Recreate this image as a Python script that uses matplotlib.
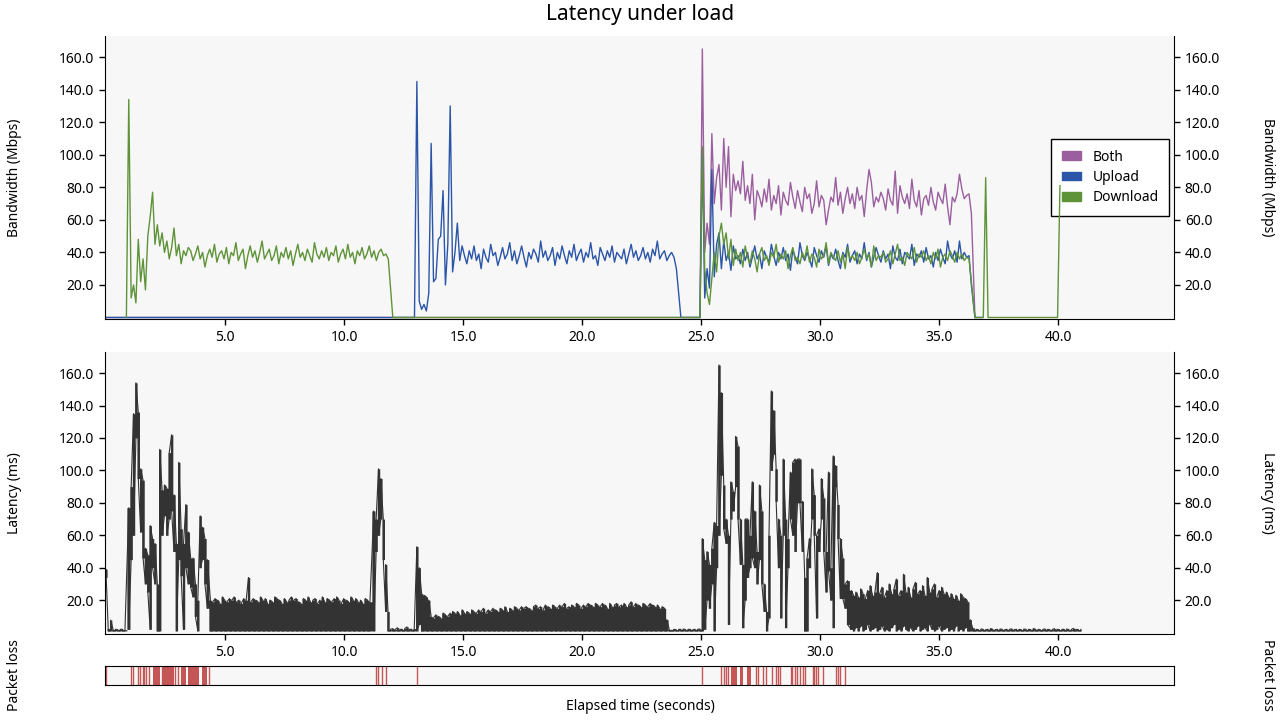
import numpy as np
import matplotlib.pyplot as plt
from matplotlib.patches import Patch
from matplotlib.ticker import FormatStrFormatter

plt.rcParams['font.family'] = ['Noto Sans', 'DejaVu Sans']
plt.rcParams['font.size'] = 10

STEP = 0.1  # sample spacing in seconds

# ---- bandwidth (Mbps) ----
dl_load = [134, 12, 20, 9, 48, 22, 36, 17, 50, 62, 77, 45, 57, 44, 52, 40, 47, 36, 43, 55,
           38, 45, 33, 41, 38, 43,
           41, 35, 39, 44, 36, 40, 31, 38, 42, 37, 45, 34, 39, 41, 36, 43, 33, 40, 38, 46,
           35, 39, 42, 30, 38, 44, 37, 41, 34, 40, 47, 36, 39, 42, 35, 38, 44, 33, 40, 37,
           43, 36, 41, 32, 39, 45, 37, 40, 35, 42, 38, 34, 46, 39, 36, 41, 37, 43, 35, 40,
           38, 44, 34, 39, 42, 36, 45, 37, 40, 33, 41, 38, 43, 36, 39, 44, 37, 41, 35, 40,
           42, 38, 39, 36]
ul_load = [145, 10, 5, 8, 4, 15, 107, 22, 24, 48, 50, 78, 20, 45, 130, 28, 40, 58, 35, 44,
           38, 33, 41, 36, 44, 35, 39, 30, 42, 37, 34, 45, 38, 40, 32, 37, 43, 36, 39, 46,
           35, 41, 33, 38, 44, 37, 31, 40, 36, 42, 39, 34, 47, 37, 41, 35, 38, 43, 32, 40,
           36, 44, 38, 33, 41, 37, 45, 35, 39, 42, 34, 40, 37, 46, 36, 38, 32, 43, 39, 35,
           41, 37, 44, 34, 40, 38, 36, 42, 33, 39, 45, 37, 41, 35, 38, 43, 36, 40, 34, 42,
           38, 47, 36, 39, 41, 35, 38, 40, 37, 30]
both_both = [165, 40, 58, 45, 113, 70, 86, 94, 66, 110, 80, 105, 62, 88, 78, 84, 76, 96, 72, 81,
             70, 88, 60, 78,
             74, 68, 79, 71, 85, 66, 75, 70, 81, 63, 77, 72, 69, 83, 74, 67, 78, 71, 65, 80,
             73, 76, 64, 70, 84, 68, 75, 72, 57, 66, 74, 71, 86, 69, 77, 64, 73, 80, 70, 76,
             67, 80, 72, 75, 62, 78, 91, 83, 68, 74, 71, 77, 73, 66, 79, 72, 69, 90, 64, 81,
             74, 70, 76, 67, 85, 72, 68, 78, 63, 73, 75, 69, 80, 71, 66, 77, 73, 70, 82, 68,
             57, 74, 71, 76, 88, 79, 73, 75, 76, 64]
ul_both = [102, 12, 30, 18, 91, 25, 45, 52, 30, 47, 35, 40, 29, 44, 36,
           38, 33, 42, 35, 40, 31, 37, 44, 36, 39, 30, 41, 37, 34, 45, 38, 32, 40, 36, 43,
           35, 39, 29, 42, 37, 33, 46, 38, 35, 40, 36, 31, 43, 38, 34, 41, 37, 44, 32, 39,
           36, 42, 35, 30, 40, 37, 45, 34, 38, 41, 33, 39, 36, 46, 35, 40, 31, 37, 43, 38,
           34, 41, 36, 39, 30, 44, 37, 35, 42, 33, 40, 38, 36, 45, 32, 39, 37, 41, 34, 43,
           36, 38, 31, 40, 35, 42, 37, 33, 47, 39, 36, 41, 34, 47, 36, 40, 37, 38, 20]
dl_both = [105, 30, 15, 8, 24, 40, 28, 50, 58, 45, 52, 36, 48, 32, 42,
           35, 40, 31, 44, 37, 33, 41, 36, 28, 39, 43, 35, 38, 32, 40, 37, 45, 34, 39, 36,
           41, 30, 38, 43, 35, 37, 33, 40, 36, 44, 34, 39, 37, 31, 42, 36, 38, 46, 33, 40,
           37, 35, 41, 34, 39, 30, 43, 36, 38, 35, 40, 33, 37, 42, 36, 39, 31, 44, 35, 38,
           37, 40, 34, 36, 41, 33, 39, 45, 35, 37, 32, 40, 38, 36, 43, 34, 39, 37, 41, 35,
           38, 33, 40, 36, 42, 31, 37, 39, 35, 41, 38, 34, 40, 36, 39, 35, 37, 36, 22]

# (start time, samples)
download_runs = [(0.86, [0.0]), (0.96, dl_load), (12.05, [0.0]), (24.95, [0.0]), (25.05, dl_both),
                 (36.5, [0.0]), (36.85, [0.0, 86.0, 0.0]), (39.97, [0.0, 81.0])]
upload_runs = [(0.0, [0.0]), (12.96, [0.0]), (13.06, ul_load), (24.15, [0.0]), (24.95, [0.0]),
               (25.05, ul_both), (36.5, [0.0]), (36.8, [0.0])]
both_runs = [(0.0, [0.0]), (24.95, [0.0]), (25.05, both_both), (36.5, [0.0])]

# ---- latency (ms): per-sample max / min ----
hi_a = [39, 2.5, 7.7, 2, 2, 1.8, 2, 2, 1.8]
lo_a = [34, 1, 1, 1, 1, 1, 1, 1, 1]
hi_b = [77, 90, 135, 154, 136, 101, 94, 52, 48, 66, 58, 55, 30, 113, 88, 91, 89, 111, 122, 85,
        55, 105, 64, 55, 79, 62, 46, 46, 30, 20, 72, 65, 58, 45]
lo_b = [2, 45, 60, 120, 95, 62, 46, 30, 25, 2, 40, 30, 1, 1, 60, 72, 60, 70, 75, 50,
        1, 45, 35, 2, 40, 30, 28, 22, 10, 1, 40, 45, 30, 15]
hi_c = [20, 19, 21, 20, 18, 22, 20, 19, 21, 20, 22, 19, 20, 18, 21, 20, 34, 19, 21, 20,
        19, 22, 20, 21, 18, 20, 19, 22, 21, 20, 18, 21, 19, 20, 22, 20, 21, 19, 18, 21,
        20, 22, 19, 20, 21, 18, 20, 22, 19, 21, 20, 19, 21, 22, 20, 18, 21, 20, 19, 22,
        20, 21, 19, 20, 18, 21, 20, 19]
hi_d = [75, 70, 101, 95, 70, 42, 13]
lo_d = [1, 50, 60, 70, 45, 13, 1]
hi_e = [2, 2.5, 2, 3, 2, 2, 2.5, 3.5, 2, 2, 2.5]
hi_f = [53, 40, 24, 23, 22, 20]
lo_f = [1, 5, 1, 1, 1, 1]
hi_g = [10, 9, 11, 10, 9, 12, 11, 10, 12, 13, 12, 13, 11, 14, 12, 13, 12, 14, 13, 12,
        14, 13, 15, 12, 14, 13, 15, 14, 13, 15, 14, 16, 13, 15, 14, 16, 15, 14, 16, 15,
        16, 15, 14, 16, 17, 15, 16, 14, 17, 16, 15, 17, 16, 15, 17, 16, 18, 15, 16, 17,
        16, 18, 17, 15, 17, 16, 18, 17, 16, 18, 17, 16, 18, 17, 15, 18, 16, 17, 18, 16,
        17, 18, 16, 17, 19, 16, 18, 17, 16, 18, 17, 16, 18, 17, 16, 17, 15, 16, 15, 8, 2]
hi_h = [2, 1.8, 2, 2, 2.2, 1.8, 2, 2, 1.8, 2, 2, 2.2]
hi_i = [58, 45, 50, 42, 52, 68, 66, 165, 148, 91, 70, 60, 93, 87, 121, 115, 70, 42, 70, 70,
        60, 93, 75, 50, 91, 75, 30, 13, 60, 149, 137, 101, 70, 60, 107, 70, 58, 99, 105, 107,
        107, 107, 81, 34, 46, 58, 101, 85, 60, 64, 95, 83, 50, 99, 40, 109, 103, 79, 58, 46,
        30, 32]
lo_i = [1, 2, 20, 15, 30, 1, 40, 60, 97, 64, 55, 5, 70, 75, 90, 70, 42, 3, 20, 34,
        40, 46, 40, 30, 45, 30, 13, 1, 9, 100, 110, 81, 40, 9, 60, 3, 40, 70, 60, 50,
        80, 80, 50, 1, 1, 40, 70, 60, 9, 50, 70, 50, 25, 38, 20, 3, 90, 58, 21, 21,
        15, 5]
hi_j = [26, 23, 25, 22, 27, 24, 21, 26, 29, 23, 25, 37, 24, 28, 22, 26, 30, 24, 27, 33,
        23, 26, 36, 25, 28, 22, 27, 31, 24, 26, 29, 23, 34, 25, 27, 30, 22, 26, 28, 24,
        25, 22, 24, 21, 23, 20, 24, 22, 21, 19, 8, 3]
lo_j = [2, 1, 3, 1, 4, 1, 2, 5, 1, 2, 3, 1, 2, 4, 1, 2, 1, 3, 5, 1,
        2, 1, 4, 2, 1, 3, 1, 2, 4, 1, 2, 3, 1, 5, 2, 1, 2, 4, 1, 2,
        3, 1, 2, 1, 4, 1, 2, 1, 3, 1, 1, 1]
hi_k = [2, 1.8, 2.2, 2, 1.8, 2, 2.5, 2, 1.8, 2, 2.2, 2, 1.8, 2, 2, 2.3, 1.8, 2, 2, 1.8,
        2.2, 2, 2, 1.8, 2.5, 2, 2, 1.8, 2, 2.2, 2, 1.8, 2, 2.4, 2, 1.8, 2, 2, 2.2, 1.8,
        2, 2.6, 2, 1.8, 2]

latency_runs = [(0.0, hi_a, lo_a), (0.96, hi_b, lo_b), (4.39, hi_c, 1.0), (11.25, hi_d, lo_d),
                (11.95, hi_e, 1.0), (13.06, hi_f, lo_f), (13.66, hi_g, 1.0), (23.85, hi_h, 1.0),
                (25.05, hi_i, lo_i), (31.3, hi_j, lo_j), (36.55, hi_k, 1.0)]

# ---- packet loss (seconds) ----
loss_times = [0.02, 1.034, 1.145, 1.367, 1.448, 1.538, 1.609, 1.68, 1.821, 2.335, 2.92, 3.03, 4.32,
              11.336, 11.447, 11.578, 11.76, 13.07,
              25.055, 25.85, 25.94, 26.04, 26.12, 27.297, 27.393, 27.605, 27.716, 27.958, 28.14,
              28.21, 28.306, 28.755, 28.835, 28.946, 29.037, 29.148, 29.29, 29.38, 29.68, 29.74,
              29.84, 29.91, 30.125, 30.65, 30.73, 30.826, 31.03]
loss_spans = [(1.982, 2.264), (2.405, 2.854), (3.151, 3.353), (3.454, 3.907), (4.028, 4.23),
              (26.265, 26.517), (26.627, 26.768), (26.93, 27.11)]

xticks = [5, 10, 15, 20, 25, 30, 35, 40]
yticks = [20, 40, 60, 80, 100, 120, 140, 160]


def series(runs):
    t, v = [], []
    for t0, vals in runs:
        t.extend(t0 + STEP * np.arange(len(vals)))
        v.extend(vals)
    return np.array(t), np.array(v, dtype=float)


def envelope(runs):
    t, lo, hi = [], [], []
    for t0, h, l in runs:
        h = np.asarray(h, dtype=float)
        l = np.broadcast_to(np.asarray(l, dtype=float), h.shape)
        t.extend(t0 + STEP * np.arange(len(h)))
        lo.extend(l)
        hi.extend(h)
    return np.array(t), np.array(lo), np.array(hi)


bg = '#f7f7f7'
c_both, c_up, c_down = '#9b5fa0', '#2a55a8', '#5e9338'
c_lat, c_loss = '#333333', '#c55656'
xlim = (-0.04, 44.85)
ylim = (-0.9, 173)

fig = plt.figure(figsize=(12.8, 7.2), dpi=100)
ax1 = fig.add_axes([0.082, 0.557, 0.835, 0.393])
ax2 = fig.add_axes([0.082, 0.1194, 0.835, 0.3917])
ax3 = fig.add_axes([0.082, 0.0486, 0.835, 0.0264])

for ax in (ax1, ax2):
    ax.set_facecolor(bg)
    ax.set_xlim(*xlim)
    ax.set_ylim(*ylim)
    ax.spines['top'].set_visible(False)
    ax.set_xticks(xticks)
    ax.set_yticks(yticks)
    ax.xaxis.set_major_formatter(FormatStrFormatter('%.1f'))
    ax.yaxis.set_major_formatter(FormatStrFormatter('%.1f'))
    ax.tick_params(axis='both', length=4.5, width=1, labelsize=10, direction='out')
    ax.tick_params(axis='y', right=True, labelright=True)

t, v = series(both_runs)
ax1.plot(t, v, color=c_both, lw=1.0)
t, v = series(upload_runs)
ax1.plot(t, v, color=c_up, lw=1.0)
t, v = series(download_runs)
ax1.plot(t, v, color=c_down, lw=1.0)

leg = ax1.legend(handles=[Patch(color=c_both, label='Both'), Patch(color=c_up, label='Upload'),
                          Patch(color=c_down, label='Download')],
                 loc='center right', borderaxespad=0.35, fancybox=False, framealpha=1,
                 edgecolor='black', handlelength=1.4, handleheight=0.6, borderpad=0.75,
                 labelspacing=0.38)
leg.get_frame().set_linewidth(1.0)
leg.set_zorder(1.5)

# latency: min/max of the samples in each bin, plus a thin zigzag through them
lt, llo, lhi = envelope(latency_runs)
ax2.fill_between(lt, llo, lhi, step='mid', color=c_lat, lw=0)
pairs = np.column_stack([llo, lhi])
pairs[1::2] = pairs[1::2, ::-1]
ax2.plot(np.repeat(lt, 2), pairs.ravel(), color=c_lat, lw=0.8)

ax3.set_facecolor(bg)
ax3.set_xlim(*xlim)
ax3.set_ylim(0, 1)
ax3.set_xticks([])
ax3.set_yticks([])
for x in loss_times:
    ax3.axvline(x, color=c_loss, lw=1.0)
for a, b in loss_spans:
    ax3.axvspan(a, b, color=c_loss, lw=0)

fig.text(0.5, 0.980, 'Latency under load', ha='center', va='center', fontsize=15)
fig.text(0.011, 0.7535, 'Bandwidth (Mbps)', rotation=90, ha='center', va='center')
fig.text(0.9906, 0.7535, 'Bandwidth (Mbps)', rotation=270, ha='center', va='center')
fig.text(0.011, 0.315, 'Latency (ms)', rotation=90, ha='center', va='center')
fig.text(0.9906, 0.315, 'Latency (ms)', rotation=270, ha='center', va='center')
fig.text(0.011, 0.0625, 'Packet loss', rotation=90, ha='center', va='center')
fig.text(0.9906, 0.0625, 'Packet loss', rotation=270, ha='center', va='center')
fig.text(0.5, 0.019, 'Elapsed time (seconds)', ha='center', va='center')

fig.savefig('out.png', dpi=100)
